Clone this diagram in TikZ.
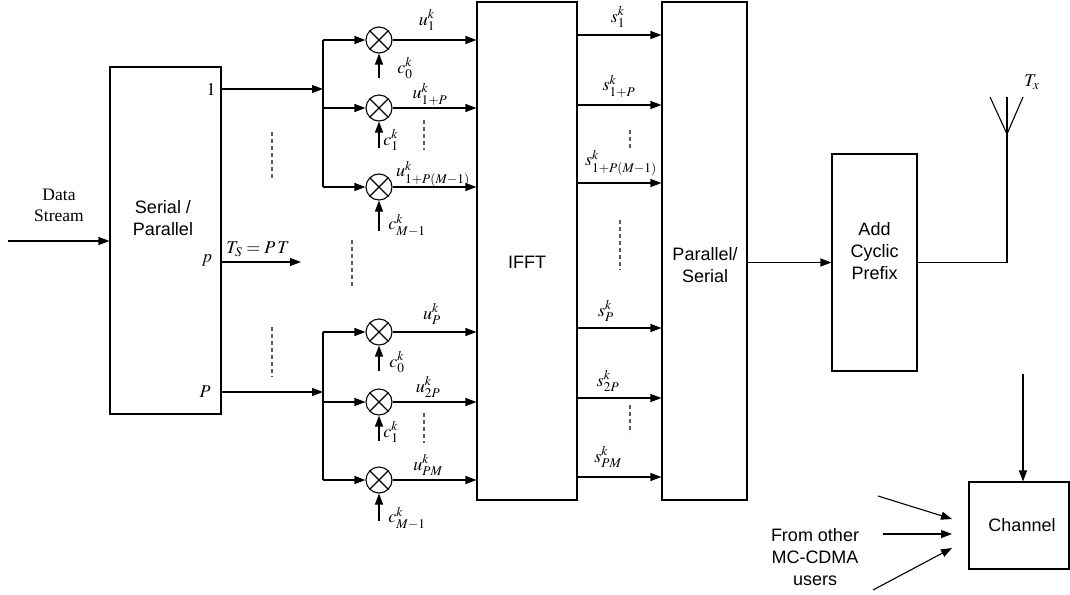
\documentclass[tikz,border=0pt]{standalone}
\usepackage{mathptmx}
\usepackage[no-math]{fontspec}
\setmainfont{Liberation Serif}
\setsansfont{Liberation Sans}
\usetikzlibrary{arrows.meta,calc}
\begin{document}
\begin{tikzpicture}[x=1pt,y=-1pt,
  every node/.style={font=\fontsize{18}{22}\selectfont, inner sep=0pt},
  blk/.style={draw, line width=1.1pt},
  sans/.style={font=\sffamily\fontsize{18}{22}\selectfont, align=center},
  serif/.style={font=\rmfamily\fontsize{17.5}{21}\selectfont, align=center},
  arr/.style={-{Triangle[length=11pt,width=8pt]}, line width=1.1pt},
  ln/.style={line width=1.1pt},
  dsh/.style={line width=1.1pt, gray!70!black, dash pattern=on 4pt off 3pt},
  mult/.style={draw, circle, line width=1.1pt, minimum size=26pt, inner sep=0pt,
    path picture={\draw[line width=1.1pt] (path picture bounding box.south west) -- (path picture bounding box.north east)
      (path picture bounding box.north west) -- (path picture bounding box.south east);}},
]
\useasboundingbox (0,0) rectangle (1070,594);

% blocks
\node[blk, minimum width=111, minimum height=347] (sp) at (165.5,240.5) {};
\node[sans] (splab) at (163,218) {Serial /\\Parallel};
\node[blk, minimum width=100, minimum height=498] (ifft) at (527,251) {};
\node[sans] (iffflab) at (527,262) {IFFT};
\node[blk, minimum width=85, minimum height=498] (ps) at (704.5,251) {};
\node[sans] (pslab) at (705,265) {Parallel/\\Serial};
\node[blk, minimum width=85, minimum height=217] (acp) at (874.5,262.5) {};
\node[sans] (acplab) at (874.5,251) {Add\\Cyclic\\Prefix};
\node[blk, minimum width=100, minimum height=87] (ch) at (1019,525.5) {};
\node[sans] (chlab) at (1022,525) {Channel};

% data stream input
\node[serif] (dslab) at (59,205) {Data\\Stream};
\coordinate (ds) at (8,241);
\draw[arr] (ds) -- (ds -| sp.west);

% S/P port labels
\node (p1) at (211,89) {$1$};
\node (pp) at (207,260) {$p$};
\node (pP) at (205,392) {$P$};

% S/P outputs
\coordinate (busA) at (323,89);
\coordinate (busB) at (323,392);
\coordinate (pend) at (301,262);
\draw[arr] (sp.east |- busA) -- (busA);
\draw[arr] (sp.east |- busB) -- (busB);
\draw[arr] (sp.east |- pend) -- (pend);
\node (tslab) at (258,249) {$T_S = P\,T$};

% multipliers
\foreach \n/\y in {1/40,2/108,3/187,4/332,5/402,6/480}{
  \node[mult] (m\n) at (379,\y) {};
  \coordinate (b\n) at (323,\y);
  \draw[arr] (b\n) -- (m\n.west);
  \draw[arr] (m\n.east) -- (m\n.east -| ifft.west);
}
\draw[ln] (b1) -- (b3);
\draw[ln] (b4) -- (b6);

% code inputs
\foreach \n/\len in {1/37,2/39,3/43,4/38,5/38,6/40}{
  \coordinate (c\n) at ($(m\n.south)+(0,\len-13)$);
  \draw[arr] (c\n) -- (m\n.south);
}
\node (cl1) at (405,68) {$c_0^k$};
\node (cl2) at (391,140) {$c_1^k$};
\node (cl3) at (407,225) {$c_{M-1}^k$};
\node (cl4) at (397,362) {$c_0^k$};
\node (cl5) at (391,432) {$c_1^k$};
\node (cl6) at (407,518) {$c_{M-1}^k$};

\node (ul1) at (427,20) {$u_1^k$};
\node (ul2) at (430,94) {$u_{1+P}^k$};
\node (ul3) at (433,174) {$u_{1+P(M-1)}^k$};
\node (ul4) at (432,314) {$u_P^k$};
\node (ul5) at (428,387) {$u_{2P}^k$};
\node (ul6) at (428,465) {$u_{PM}^k$};

% IFFT outputs
\foreach \n/\y in {1/35,2/105,3/183,4/328,5/398,6/477}{
  \coordinate (s\n) at (ifft.east |- 0,\y);
  \draw[arr] (s\n) -- (s\n -| ps.west);
}
\node (sl1) at (618,17) {$s_1^k$};
\node (sl2) at (619,86) {$s_{1+P}^k$};
\node (sl3) at (621,163) {$s_{1+P(M-1)}^k$};
\node (sl4) at (606,311) {$s_P^k$};
\node (sl5) at (608,381) {$s_{2P}^k$};
\node (sl6) at (608,457) {$s_{PM}^k$};

% dashed continuation marks
\draw[dsh] (272,132) -- (272,181);
\draw[dsh] (272,327) -- (272,377);
\draw[dsh] (352,240) -- (352,289);
\draw[dsh] (424,120) -- (424,150);
\draw[dsh] (424,413) -- (424,443);
\draw[dsh] (630,130) -- (630,150);
\draw[dsh] (620,220) -- (620,270);
\draw[dsh] (630,405) -- (630,433);

% P/S -> add cyclic prefix
\draw[arr] (ps.east |- acp.west) -- (acp.west);

% antenna
\coordinate (ant) at (1007,134);
\draw[ln] (acp.east) -| (ant);
\draw[ln] (ant) -- ++(-17,-37);
\draw[ln] (ant) -- ++(16,-37);
\draw[ln] (ant) -- ++(0,-37);
\node (tx) at (1032,82) {$T_x$};

% channel
\coordinate (chin) at (1023,374);
\draw[arr] (chin) -- (chin |- ch.north);
\node[sans] (other) at (815,557) {From other\\MC-CDMA\\users};
\coordinate (f1) at (878,496);
\coordinate (e1) at (952,519);
\coordinate (f2) at (883,534);
\coordinate (e2) at (952,534);
\coordinate (f3) at (873,590);
\coordinate (e3) at (952,548);
\draw[arr] (f1) -- (e1);
\draw[arr] (f2) -- (e2);
\draw[arr] (f3) -- (e3);
\end{tikzpicture}
\end{document}
